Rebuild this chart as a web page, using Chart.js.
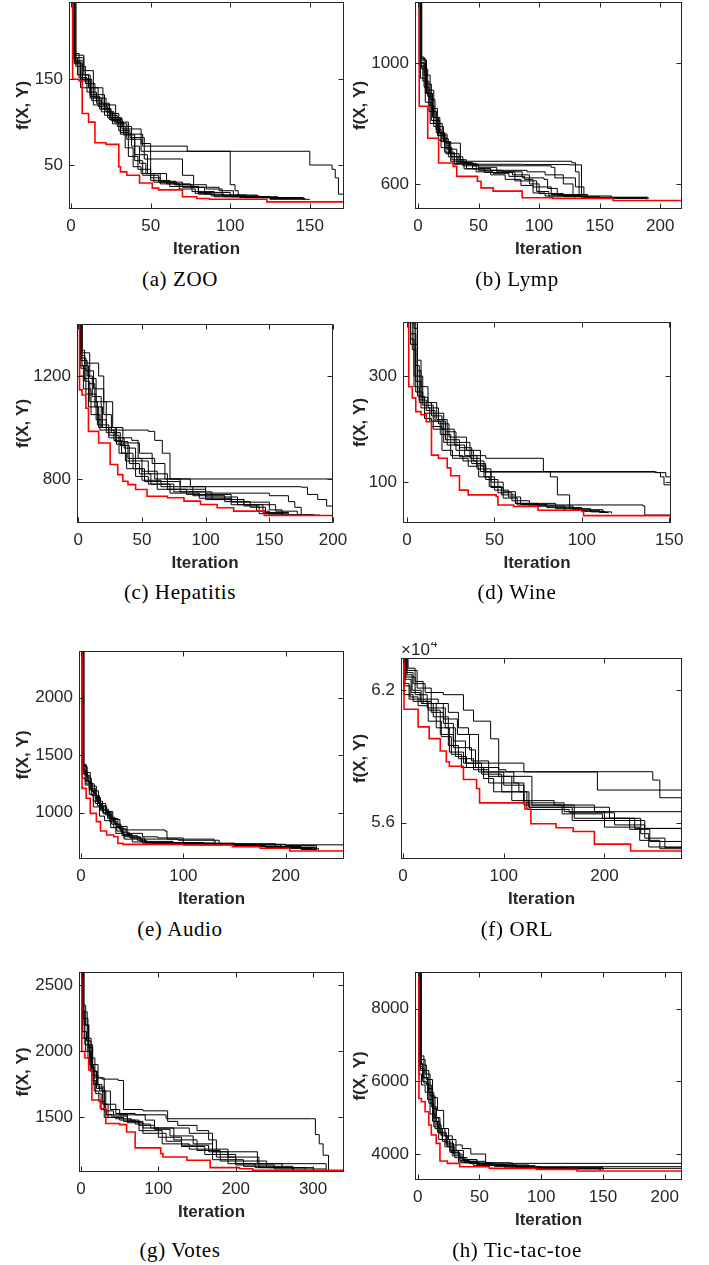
<!DOCTYPE html>
<html>
<head>
<meta charset="utf-8">
<script src="https://cdn.jsdelivr.net/npm/chart.js@4.4.1/dist/chart.umd.min.js"></script>
<style>
  body { margin: 0; width: 709px; height: 1265px; background: #fff; position: relative; overflow: hidden; }
  canvas { position: absolute; }
  .cap { position: absolute; font-family: "Liberation Serif", serif; font-size: 21px; color: #000;
         transform: translate(-50%, -50%); white-space: nowrap; letter-spacing: 0.6px; }
</style>
</head>
<body>
<script>
// ---- data: [iteration, f(X,Y)] breakpoints of each step curve ----

// (a) ZOO
const zooXTicks = [0, 50, 100, 150];
const zooYTicks = [50, 150];
const zooBest = [[0,270],[1,150],[5,148],[7,110],[11,100],[15,76],[22,74],[30,48],[31,42],[35,38],[43,29],[51,23],[55,21],[70,13],[79,11],[87,10],[123,7],[172,7]];
const zooRuns = [
  [[0,270],[2,175],[8,160],[14,140],[20,120],[28,100],[36,86],[45,72],[73,66],[150,50],[164,45],[166,35],[168,16],[172,16]],
  [[0,270],[2,170],[6,150],[12,130],[18,115],[25,105],[32,95],[38,80],[44,66],[100,27],[103,20],[105,15],[110,12],[117,11]],
  [[0,270],[1,180],[5,152],[10,135],[16,122],[24,110],[30,90],[37,82],[46,57],[70,38],[77,24],[80,16],[90,13],[130,11],[147,10]],
  [[0,270],[3,165],[9,145],[15,128],[22,112],[27,100],[33,85],[40,62],[48,40],[60,28],[75,24],[93,20],[102,14],[118,12],[132,11]],
  [[0,270],[2,172],[7,150],[13,125],[19,112],[26,98],[35,80],[40,55],[45,38],[55,30],[65,27],[85,22],[95,15],[117,12],[140,10]],
  [[0,270],[1,175],[4,155],[11,140],[17,118],[23,105],[31,88],[36,60],[42,45],[50,32],[62,25],[80,18],[100,13],[116,12]],
  [[0,270],[2,178],[8,155],[12,132],[21,108],[29,95],[34,70],[39,48],[44,40],[52,30],[70,24],[84,16],[96,13],[125,11],[135,10]],
  [[0,270],[3,170],[6,140],[14,120],[24,103],[32,92],[44,75],[50,35],[56,28],[68,22],[78,17],[88,14],[110,12],[125,10],[150,10]],
  [[0,270],[2,168],[7,148],[12,128],[19,116],[25,102],[31,86],[38,72],[43,52],[47,40],[56,31],[66,27],[76,19],[90,15],[106,12],[146,10]]
];

// (b) Lymp
const lympXTicks = [0, 50, 100, 150, 200];
const lympYTicks = [600, 1000];
const lympBest = [[0,1250],[1,857],[8,751],[17,669],[29,658],[32,625],[49,609],[52,587],[62,576],[86,554],[111,552],[161,545],[218,543]];
const lympRuns = [
  [[0,1250],[2,1020],[5,960],[10,880],[14,820],[18,770],[22,720],[27,690],[33,675],[127,670],[130,640],[133,560],[160,552],[189,548]],
  [[0,1250],[2,1000],[6,930],[11,850],[16,790],[21,740],[26,700],[34,680],[40,665],[87,664],[125,663],[135,556],[190,550]],
  [[0,1250],[1,990],[4,940],[9,860],[13,800],[20,750],[25,690],[32,670],[45,660],[110,655],[113,620],[130,590],[137,555],[170,550]],
  [[0,1250],[2,1010],[7,900],[12,820],[17,760],[23,700],[30,668],[48,640],[62,635],[75,625],[88,615],[95,590],[110,565],[130,555]],
  [[0,1250],[3,980],[8,890],[12,840],[15,780],[19,720],[28,680],[37,660],[50,645],[70,640],[86,620],[104,615],[107,585],[115,562],[135,555]],
  [[0,1250],[2,950],[6,900],[10,800],[16,760],[22,705],[30,665],[38,650],[55,638],[78,630],[92,600],[100,568],[120,558],[150,553]],
  [[0,1250],[1,1000],[5,920],[9,840],[15,770],[19,740],[27,675],[40,650],[60,630],[72,615],[85,595],[95,570],[105,560],[130,556]],
  [[0,1250],[3,1015],[6,870],[11,810],[18,765],[24,715],[32,690],[37,665],[50,655],[65,640],[80,610],[98,575],[108,560],[140,555],[189,551]],
  [[0,1250],[2,990],[7,910],[13,790],[17,745],[23,735],[35,670],[45,650],[60,645],[90,640],[105,630],[120,600],[128,565],[140,557]]
];

// (c) Hepatitis
const hepXTicks = [0, 50, 100, 150, 200];
const hepYTicks = [800, 1200];
const hepBest = [[0,1450],[1,1146],[3,1126],[6,1075],[8,985],[16,940],[25,856],[31,817],[35,791],[39,778],[45,759],[54,733],[70,727],[83,714],[96,701],[109,688],[122,675],[146,658],[200,658]];
const hepRuns = [
  [[0,1450],[2,1270],[6,1220],[12,1150],[20,1050],[26,990],[55,985],[60,950],[66,900],[72,800],[200,800]],
  [[0,1450],[1,1300],[5,1250],[16,1200],[20,1100],[27,1000],[35,940],[48,900],[58,860],[68,800],[88,770],[175,768],[180,740],[188,720],[195,695],[200,685]],
  [[0,1450],[2,1260],[7,1200],[11,1120],[18,1000],[30,960],[42,950],[47,880],[60,800],[80,770],[100,745],[150,735],[165,712],[170,690],[175,660],[185,658]],
  [[0,1450],[3,1240],[8,1170],[13,1080],[19,1000],[26,980],[33,930],[40,860],[48,820],[57,780],[75,750],[100,720],[130,700],[155,675],[172,660],[185,658]],
  [[0,1450],[1,1200],[4,1150],[10,1050],[17,990],[28,950],[34,900],[43,840],[52,790],[62,760],[85,740],[120,710],[150,680],[160,660],[180,658]],
  [[0,1450],[2,1230],[6,1130],[14,1030],[22,980],[30,935],[37,870],[45,810],[55,780],[72,745],[95,725],[120,700],[140,675],[150,660],[175,658]],
  [[0,1450],[2,1280],[5,1180],[9,1100],[15,1010],[24,970],[32,900],[38,840],[50,795],[65,770],[90,735],[115,712],[135,690],[147,665],[160,658]],
  [[0,1450],[1,1240],[4,1190],[8,1080],[16,1000],[24,960],[36,920],[45,870],[55,820],[70,760],[100,730],[125,700],[145,670],[165,660],[190,658]],
  [[0,1450],[3,1290],[9,1190],[14,1100],[22,1000],[29,945],[39,880],[50,830],[62,790],[80,750],[105,720],[130,695],[142,665],[165,658]]
];

// (d) Wine
const wineXTicks = [0, 50, 100, 150];
const wineYTicks = [100, 300];
const wineBest = [[0,450],[1,280],[3,259],[5,233],[8,227],[11,214],[14,151],[18,145],[23,127],[25,112],[30,85],[35,76],[51,73],[52,57],[61,54],[75,47],[100,45],[101,37],[151,37]];
const wineRuns = [
  [[0,450],[2,370],[4,300],[6,262],[10,230],[15,200],[22,180],[30,165],[37,150],[45,145],[78,120],[82,110],[86,76],[93,51],[98,47],[101,44]],
  [[0,450],[3,350],[5,270],[9,250],[14,225],[20,200],[27,170],[33,150],[40,132],[45,120],[142,118],[145,110],[147,95],[151,95]],
  [[0,450],[4,390],[6,310],[8,260],[12,240],[18,210],[24,185],[34,160],[42,130],[44,119],[143,118],[148,110],[151,100]],
  [[0,450],[2,380],[5,320],[7,255],[11,235],[16,215],[22,195],[28,175],[36,145],[42,120],[48,90],[55,70],[63,57],[135,55],[136,38],[151,37]],
  [[0,450],[3,400],[5,290],[8,240],[13,215],[19,190],[25,150],[32,140],[40,125],[48,100],[55,82],[62,60],[75,55],[90,47],[110,43],[115,41]],
  [[0,450],[4,360],[6,300],[9,245],[15,230],[21,175],[28,160],[38,140],[44,110],[50,85],[58,72],[65,58],[80,52],[100,45],[113,42]],
  [[0,450],[3,420],[6,330],[8,280],[12,250],[17,218],[23,170],[30,148],[37,135],[45,105],[52,80],[60,65],[70,55],[95,48],[112,43]],
  [[0,450],[2,360],[4,280],[7,250],[10,220],[14,205],[20,160],[26,145],[35,130],[41,110],[47,92],[54,76],[62,60],[85,50],[105,44],[117,41]]
];

// (e) Audio
const audioXTicks = [0, 100, 200];
const audioYTicks = [1000, 1500, 2000];
const audioBest = [[0,2600],[1,1211],[5,1125],[9,994],[15,922],[19,840],[25,806],[32,791],[36,733],[41,724],[100,719],[148,704],[175,690],[204,667],[257,667]];
const audioRuns = [
  [[0,2600],[2,1420],[5,1350],[9,1250],[13,1150],[18,1050],[24,980],[30,900],[37,860],[44,850],[82,840],[84,770],[95,760],[129,755],[131,725],[200,715],[230,690]],
  [[0,2600],[2,1400],[6,1300],[10,1230],[15,1100],[21,1000],[28,920],[35,840],[42,790],[50,770],[60,735],[100,720],[257,720]],
  [[0,2600],[1,1380],[4,1280],[8,1200],[12,1100],[19,1020],[26,950],[32,870],[40,800],[48,780],[58,770],[97,765],[100,730],[150,715],[180,700],[215,680],[230,670]],
  [[0,2600],[2,1360],[5,1250],[10,1150],[16,1060],[22,990],[29,930],[34,880],[41,810],[50,780],[62,740],[120,725],[160,705],[190,690],[225,675]],
  [[0,2600],[3,1330],[7,1260],[11,1180],[14,1080],[20,1030],[27,960],[33,900],[39,830],[47,790],[58,750],[90,735],[150,720],[195,690],[232,672]],
  [[0,2600],[2,1410],[5,1320],[9,1210],[14,1130],[19,1060],[25,1010],[31,950],[36,880],[45,800],[55,760],[64,735],[130,725],[175,705],[215,680]],
  [[0,2600],[1,1300],[4,1240],[8,1160],[12,1050],[18,970],[23,930],[29,870],[34,820],[42,770],[50,745],[70,730],[150,718],[180,698],[228,674]],
  [[0,2600],[2,1340],[6,1270],[10,1190],[17,1080],[24,1000],[30,940],[38,850],[44,820],[60,790],[75,780],[100,770],[130,760],[135,730],[190,700],[230,678]]
];

// (f) ORL
const orlXTicks = [0, 100, 200];
const orlYTicks = [56000, 62000];
const orlBest = [[0,64000],[1,61140],[15,60340],[26,59810],[37,59250],[43,58760],[46,58560],[60,57960],[73,57550],[76,56900],[121,56620],[127,55950],[152,55770],[169,55600],[190,55030],[226,54720],[277,54720]];
const orlRuns = [
  [[0,64000],[3,62800],[10,62300],[22,61900],[40,61800],[60,61100],[70,60600],[87,59800],[95,58400],[102,58310],[248,57930],[255,57130],[277,57130]],
  [[0,64000],[5,63000],[12,62400],[20,61600],[35,61400],[45,61000],[55,60300],[65,60000],[75,58700],[120,58300],[193,57480],[277,57480]],
  [[0,64000],[2,62500],[8,61900],[17,61500],[28,61000],[40,60500],[50,59700],[62,58700],[75,58300],[110,57800],[120,57000],[150,56800],[190,56500],[277,56500]],
  [[0,64000],[4,62700],[9,62000],[18,61400],[30,60800],[45,59500],[55,58900],[70,58400],[85,57800],[115,57400],[125,56700],[170,56200],[230,55740],[277,55740]],
  [[0,64000],[1,62200],[7,61700],[15,61300],[25,60600],[38,59900],[48,59100],[58,58500],[80,58300],[100,57700],[120,56900],[160,56500],[200,56100],[240,55740],[277,55740]],
  [[0,64000],[3,62600],[12,61800],[24,61200],[42,60300],[52,59000],[63,58500],[80,58000],[90,57400],[120,56800],[170,56700],[205,56200],[225,55700],[245,55150],[277,55150]],
  [[0,64000],[2,62300],[6,61600],[20,61400],[33,60300],[46,59200],[60,58700],[78,58200],[98,57400],[123,56600],[165,56450],[210,55900],[240,55300],[260,54870],[277,54870]],
  [[0,64000],[1,61800],[10,61500],[25,61100],[37,60000],[50,59400],[68,58800],[85,58100],[108,57000],[125,56700],[168,56100],[200,55800],[235,55200],[255,54820],[277,54820]],
  [[0,64000],[4,62900],[14,62100],[28,61400],[40,60700],[54,60000],[66,59300],[72,58500],[95,58100],[128,56800],[158,56400],[198,56200],[236,55500],[244,54900],[277,54900]]
];

// (g) Votes
const votesXTicks = [0, 100, 200, 300];
const votesYTicks = [1500, 2000, 2500];
const votesBest = [[0,2700],[1,2000],[5,1950],[10,1860],[14,1632],[25,1568],[32,1454],[50,1446],[59,1390],[70,1270],[103,1226],[106,1201],[137,1176],[167,1120],[205,1112],[222,1100],[341,1092]];
const votesRuns = [
  [[0,2700],[2,2350],[6,2200],[10,2050],[15,1900],[22,1800],[30,1700],[38,1560],[50,1520],[110,1490],[298,1490],[303,1370],[308,1300],[313,1214],[320,1092],[341,1090]],
  [[0,2700],[3,2300],[8,2100],[13,1950],[18,1800],[27,1790],[48,1780],[55,1560],[80,1550],[110,1550],[112,1470],[125,1440],[150,1400],[165,1330],[175,1200],[200,1150],[230,1120],[274,1100]],
  [[0,2700],[2,2250],[5,2050],[11,1900],[16,1750],[24,1700],[30,1600],[45,1530],[70,1520],[83,1480],[95,1420],[140,1380],[170,1260],[190,1200],[230,1150],[317,1110]],
  [[0,2700],[1,2100],[6,2000],[12,1850],[20,1720],[28,1600],[35,1500],[50,1480],[70,1450],[90,1420],[120,1330],[150,1250],[180,1240],[226,1240],[228,1150],[260,1120],[300,1110]],
  [[0,2700],[3,2250],[9,2000],[14,1780],[19,1680],[26,1560],[33,1520],[60,1480],[75,1400],[105,1300],[140,1260],[170,1240],[190,1150],[225,1120],[274,1100]],
  [[0,2700],[2,2150],[7,2080],[13,1880],[17,1700],[23,1620],[30,1500],[45,1490],[65,1470],[80,1420],[100,1350],[130,1280],[160,1220],[200,1140],[250,1110],[317,1100]],
  [[0,2700],[4,2200],[10,2030],[15,1850],[21,1750],[27,1700],[32,1520],[40,1500],[55,1470],[75,1440],[95,1410],[115,1360],[145,1300],[170,1180],[210,1130],[274,1105]],
  [[0,2700],[1,2300],[4,2100],[9,1950],[14,1820],[22,1730],[30,1550],[42,1510],[60,1460],[80,1380],[110,1320],[130,1290],[165,1240],[180,1170],[240,1120],[290,1105]]
];

// (h) Tic-tac-toe
const ticXTicks = [0, 50, 100, 150, 200];
const ticYTicks = [4000, 6000, 8000];
const ticBest = [[0,9500],[1,5529],[3,5437],[6,5163],[9,4797],[11,4522],[15,4293],[18,3808],[24,3744],[34,3652],[58,3607],[96,3579],[129,3533],[214,3515]];
const ticRuns = [
  [[0,9500],[2,6700],[5,6300],[9,5700],[13,5000],[17,4700],[22,4500],[28,4250],[36,4150],[43,4000],[55,3760],[75,3744],[214,3744]],
  [[0,9500],[1,6500],[4,6100],[8,5500],[12,4900],[16,4600],[20,4400],[26,4100],[33,3900],[40,3800],[55,3750],[77,3652],[214,3652]],
  [[0,9500],[2,6600],[6,6200],[10,5600],[14,5000],[18,4600],[23,4300],[29,4000],[36,3850],[48,3720],[70,3680],[95,3607],[214,3607]],
  [[0,9500],[1,6400],[4,6000],[7,5900],[11,5300],[15,4800],[19,4500],[24,4200],[30,3900],[38,3760],[60,3700],[90,3620],[150,3570]],
  [[0,9500],[3,6450],[7,6050],[12,5550],[16,5200],[21,4700],[25,4400],[31,4100],[37,3800],[48,3700],[75,3650],[100,3600],[148,3560]],
  [[0,9500],[2,6300],[5,5950],[9,5400],[13,4750],[17,4400],[22,4200],[27,4050],[33,3780],[45,3690],[70,3640],[96,3600]],
  [[0,9500],[1,6200],[3,5900],[6,5700],[10,5100],[14,4700],[20,4350],[26,4050],[34,3820],[42,3740],[62,3660],[85,3620],[150,3565]],
  [[0,9500],[2,6350],[5,6100],[8,5800],[12,5250],[15,4900],[18,4550],[23,4250],[28,3950],[35,3760],[50,3700],[80,3630],[120,3590],[147,3560]]
];

// ---- layout: canvas left, plot left/top/right/bottom (page px), axis ranges, caption centre ----
const panels = [
  { caption: '(a) ZOO', best: zooBest, runs: zooRuns, xTicks: zooXTicks, yTicks: zooYTicks,
    box: [9, 69, 2, 344, 209], x: [-1.3, 171.5], y: [-1.3, 240], cap: [180, 279] },
  { caption: '(b) Lymp', best: lympBest, runs: lympRuns, xTicks: lympXTicks, yTicks: lympYTicks,
    box: [346, 415, 2, 682, 209], x: [-2.5, 218], y: [517, 1202], cap: [517, 279] },
  { caption: '(c) Hepatitis', best: hepBest, runs: hepRuns, xTicks: hepXTicks, yTicks: hepYTicks,
    box: [9, 77, 324, 333, 523], x: [-1, 200], y: [629, 1402], cap: [180, 592] },
  { caption: '(d) Wine', best: wineBest, runs: wineRuns, xTicks: wineXTicks, yTicks: wineYTicks,
    box: [346, 403, 322, 671, 523], x: [-2.3, 151], y: [23, 402], cap: [517, 592] },
  { caption: '(e) Audio', best: audioBest, runs: audioRuns, xTicks: audioXTicks, yTicks: audioYTicks,
    box: [9, 79, 651, 344, 859], x: [-2, 257], y: [597, 2406], cap: [180, 929] },
  { caption: '(f) ORL', best: orlBest, runs: orlRuns, xTicks: orlXTicks, yTicks: orlYTicks,
    box: [346, 401, 658, 682, 859], x: [-2, 277], y: [54355, 63463], cap: [517, 929], exp: true },
  { caption: '(g) Votes', best: votesBest, runs: votesRuns, xTicks: votesXTicks, yTicks: votesYTicks,
    box: [9, 79, 972, 344, 1172], x: [-2.6, 340], y: [1087, 2601], cap: [180, 1250] },
  { caption: '(h) Tic-tac-toe', best: ticBest, runs: ticRuns, xTicks: ticXTicks, yTicks: ticYTicks,
    box: [346, 415, 972, 682, 1180], x: [-2.2, 214], y: [3286, 9007], cap: [517, 1250] }
];

const ink = '#262626';
const sans = '"Liberation Sans", Arial, sans-serif';

// box round the plot with inward ticks on all four sides (MATLAB style)
const framePlugin = {
  id: 'frame',
  afterDatasetsDraw(chart, args, opts) {
    const { ctx, chartArea: a, scales } = chart;
    const l = Math.round(a.left) + 0.5, r = Math.round(a.right) - 0.5;
    const t = Math.round(a.top) + 0.5, b = Math.round(a.bottom) - 0.5;
    ctx.save();
    ctx.strokeStyle = ink;
    ctx.lineWidth = 1;
    ctx.strokeRect(l, t, r - l, b - t);
    ctx.beginPath();
    scales.x.ticks.forEach(tk => {
      const px = Math.round(scales.x.getPixelForValue(tk.value)) + 0.5;
      ctx.moveTo(px, b); ctx.lineTo(px, b - 5);
      ctx.moveTo(px, t); ctx.lineTo(px, t + 5);
    });
    scales.y.ticks.forEach(tk => {
      const py = Math.round(scales.y.getPixelForValue(tk.value)) + 0.5;
      ctx.moveTo(l, py); ctx.lineTo(l + 5, py);
      ctx.moveTo(r, py); ctx.lineTo(r - 5, py);
    });
    ctx.stroke();
    if (opts.exp) {
      ctx.fillStyle = ink;
      ctx.textBaseline = 'alphabetic';
      ctx.font = '17px ' + sans;
      ctx.fillText('\u00d710', a.left, a.top - 3);
      const w = ctx.measureText('\u00d710').width;
      ctx.font = '12px ' + sans;
      ctx.fillText('4', a.left + w + 1, a.top - 11);
    }
    ctx.restore();
  }
};

function makePanel(p) {
  const [L, left, top, right, bottom] = p.box;
  const padTop = 16, padRight = 20, xAxisH = 55;
  const cv = document.createElement('canvas');
  const w = right + padRight - L;
  const h = bottom + xAxisH - (top - padTop);
  cv.width = w; cv.height = h;
  cv.style.width = w + 'px'; cv.style.height = h + 'px';
  cv.style.left = L + 'px'; cv.style.top = (top - padTop) + 'px';
  document.body.appendChild(cv);

  const datasets = [{ data: p.best, borderColor: '#ff0000', borderWidth: 1.6 }]
    .concat(p.runs.map(r => ({ data: r, borderColor: '#000000', borderWidth: 1 })));
  datasets.forEach(d => { d.stepped = 'before'; d.pointRadius = 0; d.fill = false; });

  new Chart(cv, {
    type: 'line',
    data: { datasets: datasets },
    options: {
      responsive: false,
      animation: false,
      devicePixelRatio: 1,
      layout: { padding: { top: padTop, right: padRight, left: 0, bottom: 0 } },
      plugins: { legend: { display: false }, tooltip: { enabled: false }, frame: { exp: !!p.exp } },
      scales: {
        x: {
          type: 'linear', min: p.x[0], max: p.x[1],
          grid: { display: false, drawTicks: false }, border: { display: false },
          ticks: { color: ink, font: { family: sans, size: 17 }, padding: 7, maxRotation: 0, autoSkip: false },
          title: { display: true, text: 'Iteration', color: ink,
                   font: { family: sans, size: 17, weight: 'bold' }, padding: { top: 0, bottom: 4 } },
          afterBuildTicks: s => { s.ticks = p.xTicks.map(v => ({ value: v })); },
          afterFit: s => { s.height = xAxisH; s.paddingLeft = 0; s.paddingRight = 0; }
        },
        y: {
          type: 'linear', min: p.y[0], max: p.y[1],
          grid: { display: false, drawTicks: false }, border: { display: false },
          ticks: { color: ink, font: { family: sans, size: 17 }, padding: 6, autoSkip: false,
                   callback: v => p.exp ? (v / 1e4).toFixed(1) : String(v) },
          title: { display: true, text: 'f(X, Y)', color: ink,
                   font: { family: sans, size: 17, weight: 'bold' }, padding: { top: 4, bottom: 0 } },
          afterBuildTicks: s => { s.ticks = p.yTicks.map(v => ({ value: v })); },
          afterFit: s => { s.width = left - L; s.paddingTop = 0; s.paddingBottom = 0; }
        }
      }
    },
    plugins: [framePlugin]
  });

  const cap = document.createElement('div');
  cap.className = 'cap';
  cap.textContent = p.caption;
  cap.style.left = p.cap[0] + 'px';
  cap.style.top = p.cap[1] + 'px';
  document.body.appendChild(cap);
}

panels.forEach(makePanel);
</script>
</body>
</html>
